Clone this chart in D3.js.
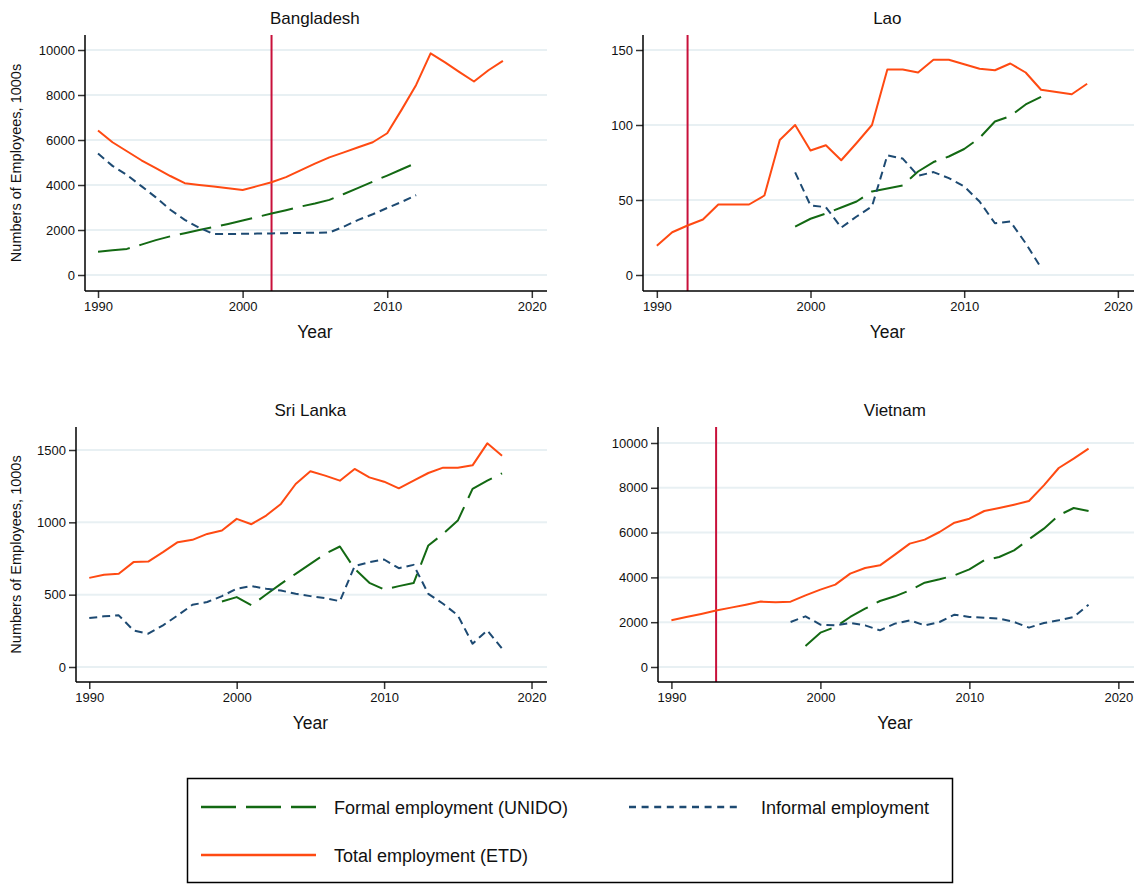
<!DOCTYPE html>
<html><head><meta charset="utf-8">
<script src="https://cdn.jsdelivr.net/npm/d3@7"></script>
<style>body{margin:0;background:#fff}svg{display:block}text{font-family:"Liberation Sans",Arial,sans-serif}</style>
</head><body>
<svg id="c" width="1141" height="884"></svg>
<script>
const years = [1990,1991,1992,1993,1994,1995,1996,1997,1998,1999,2000,2001,2002,2003,2004,2005,2006,2007,2008,2009,2010,2011,2012,2013,2014,2015,2016,2017,2018];
const countries = ["Bangladesh","Lao","Sri Lanka","Vietnam"];
const seriesNames = ["Formal employment (UNIDO)","Informal employment","Total employment (ETD)"];
const xTicks = [1990,2000,2010,2020];
const bangladeshTicks = [0,2000,4000,6000,8000,10000];
const laoTicks = [0,50,100,150];
const sriLankaTicks = [0,500,1000,1500];
const vietnamTicks = [0,2000,4000,6000,8000,10000];
const policyYears = [2002,1992,null,1993];

const bangladeshTotal = [6420,5900,5500,5100,4750,4400,4080,4000,3930,3860,3780,3950,4120,4350,4650,4950,5230,5450,5680,5900,6300,7350,8450,9850,9450,9020,8600,9100,9520];
const bangladeshFormal = [1030,1100,1160,1350,1550,1720,1860,2000,2130,2270,2420,2580,2730,2880,3040,3180,3340,3600,3870,4150,4420,4700,4980,null,null,null,null,null,null];
const bangladeshInformal = [5400,4850,4450,3950,3450,2900,2450,2100,1820,1820,1830,1840,1850,1860,1870,1880,1890,2150,2450,2700,2980,3250,3550,null,null,null,null,null,null];

const laoTotal = [19.5,28.5,33,37,47,47,47,53,90,100,83,86.5,76.5,88,100,137,137,135,143.5,143.5,140.5,137.5,136.5,141,135,123.5,122,120.5,127.5];
const laoFormal = [null,null,null,null,null,null,null,null,null,32.3,37.5,41,45,49,55.7,57.7,59.7,69,75.3,79,84,91.4,102.3,105.9,113.7,118.8,null,null,null];
const laoInformal = [null,null,null,null,null,null,null,null,null,68.4,46.4,45.2,31.6,39,45.7,79.8,77.6,66.2,68.6,64.6,59,49,34.5,35.7,21.2,4.9,null,null,null];

const sriLankaTotal = [616,637,644,725,729,794,863,879,920,943,1024,987,1047,1127,1265,1353,1323,1288,1369,1311,1281,1235,1288,1341,1378,1378,1394,1546,1461];
const sriLankaFormal = [null,null,null,null,null,null,null,null,null,453,483,426,501,575,644,713,782,833,679,582,536,559,580,840,920,1012,1231,1288,1339];
const sriLankaInformal = [338,350,357,253,230,288,357,430,449,490,541,559,541,529,506,490,476,455,697,725,743,683,706,506,437,357,161,253,127];

const vietnamTotal = [2083,2230,2370,2520,2650,2780,2920,2890,2917,3200,3452,3676,4167,4420,4539,5015,5506,5685,6027,6443,6622,6964,7098,7247,7411,8110,8884,9300,9747];
const vietnamFormal = [null,null,null,null,null,null,null,null,null,937,1533,1786,2232,2604,2946,3155,3423,3765,3914,4092,4360,4762,4911,5208,5699,6176,6771,7098,6964];
const vietnamInformal = [null,null,null,null,null,null,null,null,2009,2262,1890,1860,1964,1860,1637,1935,2083,1860,2009,2336,2232,2202,2158,2009,1756,1964,2083,2232,2783];

// layout / style
const colors = {formal:"#136913", informal:"#1d4a72", total:"#ff4a12", policy:"#c8103a", grid:"#e8f0f3"};
const dashes = {formal:"32,10", informal:"8,5", total:null};
const panels = [
  {name:countries[0], ticks:bangladeshTicks, dom:[-711,10667], L:85, R:547, T:35, B:291, ytitle:true,
   data:{formal:bangladeshFormal, informal:bangladeshInformal, total:bangladeshTotal}, policy:policyYears[0]},
  {name:countries[1], ticks:laoTicks, dom:[-10.67,160], L:643, R:1134, T:35, B:291, ytitle:false,
   data:{formal:laoFormal, informal:laoInformal, total:laoTotal}, policy:policyYears[1]},
  {name:countries[2], ticks:sriLankaTicks, dom:[-103.7,1659], L:76, R:547, T:427, B:682, ytitle:true,
   data:{formal:sriLankaFormal, informal:sriLankaInformal, total:sriLankaTotal}, policy:policyYears[2]},
  {name:countries[3], ticks:vietnamTicks, dom:[-670,10714], L:658, R:1134, T:427, B:682, ytitle:false,
   data:{formal:vietnamFormal, informal:vietnamInformal, total:vietnamTotal}, policy:policyYears[3]}
];

const svg = d3.select("#c");

panels.forEach(p => {
  const x = d3.scaleLinear().domain([1989.1, 2021.05]).range([p.L, p.R]);
  const y = d3.scaleLinear().domain(p.dom).range([p.B, p.T]);
  const g = svg.append("g");

  // gridlines
  g.selectAll("line.grid").data(p.ticks).join("line")
    .attr("x1", p.L).attr("x2", p.R).attr("y1", d=>y(d)).attr("y2", d=>y(d))
    .attr("stroke", colors.grid).attr("stroke-width", 2);

  // policy line
  if (p.policy != null) {
    g.append("line").attr("x1", x(p.policy)).attr("x2", x(p.policy))
      .attr("y1", p.T).attr("y2", p.B).attr("stroke", colors.policy).attr("stroke-width", 2);
  }

  // series
  ["formal","informal","total"].forEach(k => {
    const line = d3.line().defined(d => d[1] != null).x(d => x(d[0])).y(d => y(d[1]));
    const pts = years.map((yr,i) => [yr, p.data[k][i]]);
    g.append("path").attr("d", line(pts)).attr("fill","none")
      .attr("stroke", colors[k]).attr("stroke-width", 2)
      .attr("stroke-linejoin","round")
      .attr("stroke-dasharray", dashes[k]);
  });

  // y axis
  const ya = d3.axisLeft(y).tickValues(p.ticks).tickSize(7).tickPadding(3).tickFormat(d3.format("d"));
  const yg = g.append("g").attr("transform", `translate(${p.L},0)`).call(ya);
  yg.select(".domain").remove();
  yg.append("line").attr("x1",0).attr("x2",0).attr("y1",p.T).attr("y2",p.B).attr("stroke","#000").attr("stroke-width",1.5);
  yg.selectAll(".tick line").attr("stroke","#333").attr("stroke-width",1.5);
  yg.selectAll(".tick text").attr("font-size",13).attr("fill","#111");

  // x axis
  const xa = d3.axisBottom(x).tickValues(xTicks).tickSize(7).tickPadding(4).tickFormat(d3.format("d"));
  const xg = g.append("g").attr("transform", `translate(0,${p.B})`).call(xa);
  xg.select(".domain").remove();
  xg.append("line").attr("x1",p.L).attr("x2",p.R).attr("y1",0).attr("y2",0).attr("stroke","#000").attr("stroke-width",1.5);
  xg.selectAll(".tick line").attr("stroke","#333").attr("stroke-width",1.5);
  xg.selectAll(".tick text").attr("font-size",13).attr("fill","#111");

  const cx = (x(1990)+x(2020))/2;
  g.append("text").attr("x", cx).attr("y", p.T-11).attr("text-anchor","middle")
    .attr("font-size",17).attr("fill","#111").text(p.name);
  g.append("text").attr("x", cx).attr("y", p.B+47).attr("text-anchor","middle")
    .attr("font-size",17.5).attr("fill","#111").text("Year");
  if (p.ytitle) {
    const cy = (p.T+p.B)/2;
    g.append("text").attr("transform",`translate(21,${cy}) rotate(-90)`).attr("text-anchor","middle")
      .attr("font-size",14.5).attr("fill","#111").text("Numbers of Employees, 1000s");
  }
});

// legend
const lg = svg.append("g");
lg.append("rect").attr("x",187.5).attr("y",778.5).attr("width",765).attr("height",104)
  .attr("fill","none").attr("stroke","#000").attr("stroke-width",1.5);
const legendItems = [
  {k:"formal", name:seriesNames[0], x:201, y:807},
  {k:"informal", name:seriesNames[1], x:629, y:807},
  {k:"total", name:seriesNames[2], x:201, y:855}
];
legendItems.forEach(it => {
  const w = it.k === "informal" ? 112 : 115;
  lg.append("line").attr("x1", it.x).attr("x2", it.x+w).attr("y1", it.y).attr("y2", it.y)
    .attr("stroke", colors[it.k]).attr("stroke-width", 2.5)
    .attr("stroke-dasharray", it.k==="formal" ? "35,10" : (it.k==="informal" ? "7,5.6" : null));
  lg.append("text").attr("x", it.k==="informal" ? it.x+132 : it.x+133).attr("y", it.y+6.5)
    .attr("font-size",18).attr("fill","#111").text(it.name);
});
</script>
</body></html>
